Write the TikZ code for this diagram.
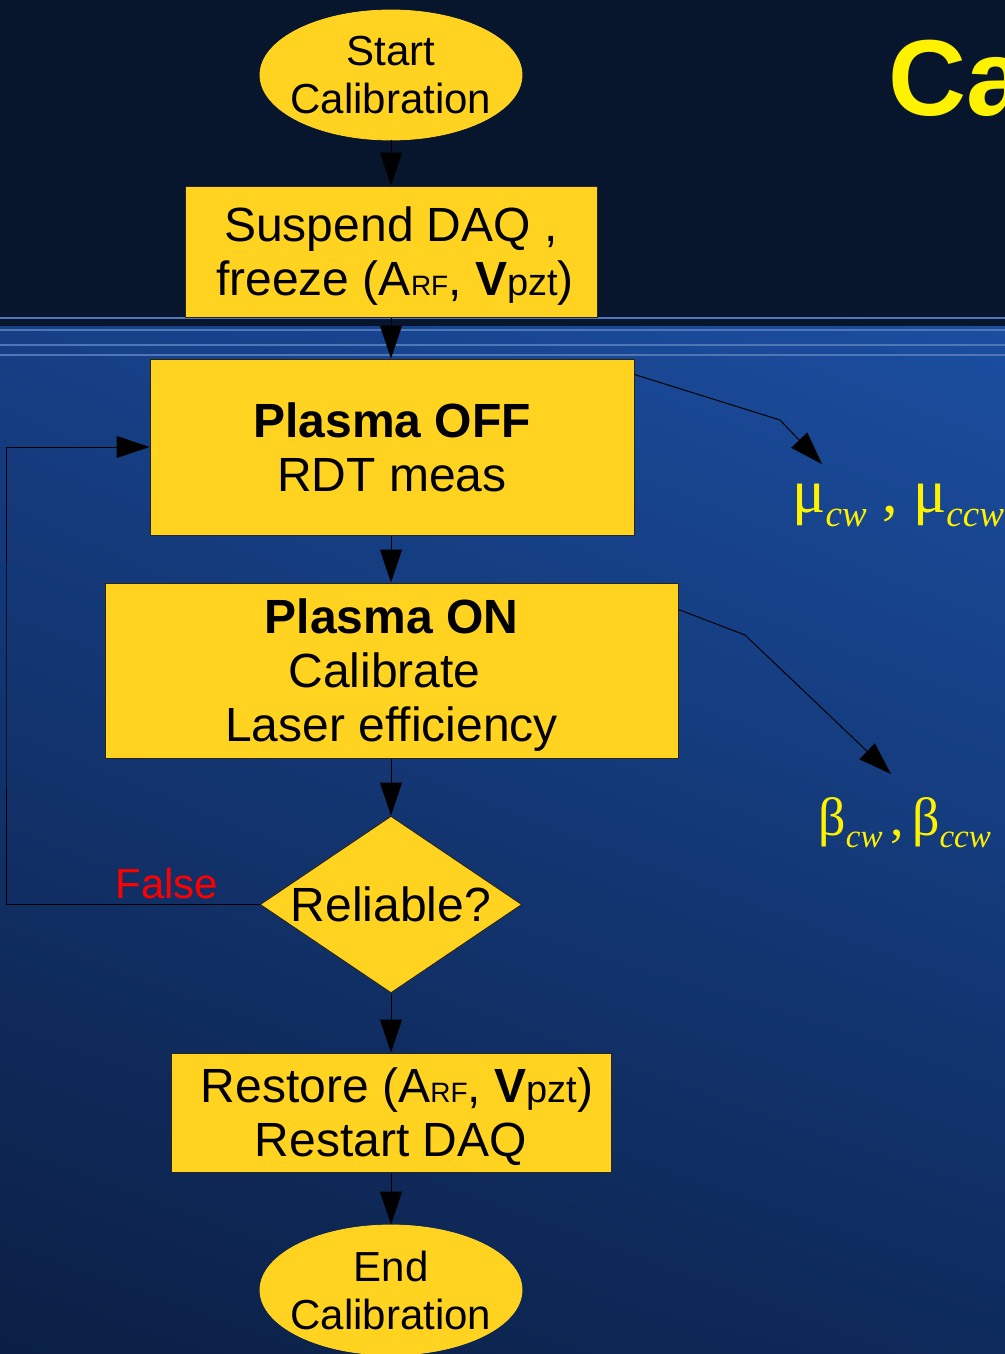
\documentclass[tikz,border=0pt]{standalone}
\usepackage{fontspec}
\setmainfont{Liberation Sans}
\newfontfamily\calserif{Liberation Serif}
\usepackage{tikz}
\usetikzlibrary{shapes.geometric, arrows.meta, calc, positioning, shadings}
\definecolor{calyellow}{HTML}{FFD320}
\definecolor{navy}{HTML}{07152D}
\definecolor{stripe}{HTML}{4F77B8}
\definecolor{bgul}{HTML}{163F86}
\definecolor{bgur}{HTML}{1B4EA0}
\definecolor{bgll}{HTML}{0B1F44}
\definecolor{bglr}{HTML}{0E2A5C}
\tikzset{calbox/.style={rectangle, draw=black!85, line width=0.5pt, fill=calyellow, align=center, inner sep=0pt, text depth=0pt, font=\fontsize{24}{27}\selectfont},
    calterm/.style={ellipse, draw=calyellow, fill=calyellow, align=center, inner xsep=-4pt, inner ysep=0pt, minimum width=131pt, minimum height=65pt, font=\fontsize{21}{24}\selectfont},
    caldec/.style={diamond, draw=black!85, line width=0.5pt, fill=calyellow, inner sep=0pt, shape aspect=1.48, minimum width=131pt, minimum height=88.5pt, font=\fontsize{24}{27}\selectfont},
    flow/.style={draw=black, line width=0.5pt, -{Triangle[length=16.5pt, width=11pt]}},
    lbl/.style={text=yellow, inner sep=0pt, anchor=base west},
}
\newcommand{\calarf}{A{\fontsize{14}{14}\selectfont RF}}
\newcommand{\calvpzt}{\textbf{V}{\fontsize{19}{19}\selectfont pzt}}
\newcommand{\calsub}[1]{\raisebox{-7pt}{\fontsize{18.5}{19}\selectfont\itshape #1}}
\newcommand{\calsubb}[1]{\raisebox{-6pt}{\fontsize{16.5}{17}\selectfont\itshape #1}}

\begin{document}
\begin{tikzpicture}[x=0.5pt, y=-0.5pt]
        \useasboundingbox (0,0) rectangle (1005,1354);
        \clip (0,0) rectangle (1005,1354);

        \fill[navy] (0,0) rectangle (1005,326);
        \shade[upper left=bgul, upper right=bgur, lower left=bgll, lower right=bglr] (0,326) rectangle (1005,1354);
        \draw[stripe, line width=1pt] (0,318) -- (1005,318);
        \draw[stripe, line width=1pt] (0,329.5) -- (1005,329.5);
        \draw[stripe, line width=1pt] (0,344.5) -- (1005,344.5);
        \draw[stripe, line width=1pt] (0,354.5) -- (1005,354.5);

        \node[lbl, font=\bfseries\fontsize{54}{54}\selectfont] (title) at (888,116) {Ca};

        \node[calterm] (start) at (391,75) {Start\\Calibration};
        \node[calbox, minimum width=206pt, minimum height=65.5pt] (suspend) at (391,251.5) {Suspend DAQ ,\\\hspace*{4pt}freeze (\calarf, \calvpzt)};
        \node[calbox, minimum width=242pt, minimum height=88pt] (off) at (392,447) {\textbf{Plasma OFF}\\RDT meas};
        \node[calbox, minimum width=286.5pt, minimum height=87.5pt] (on) at (391.5,670.5) {\textbf{Plasma ON}\\Calibrate\kern7pt\\Laser efficiency};
        \node[caldec] (rel) at (391,904.5) {Reliable?};
        \node[calbox, minimum width=220pt, minimum height=59.5pt] (restore) at (391,1112.5) {\hspace*{6pt}Restore (\calarf, \calvpzt)\\Restart DAQ};
        \node[calterm] (end) at (391,1290) {End\\Calibration};

        \draw[flow] (start) -- (suspend);
        \draw[flow] (suspend) -- (suspend |- off.north);
        \draw[flow] (off.south -| suspend) -- (suspend |- on.north);
        \draw[flow] (on.south -| suspend) -- (rel);
        \draw[flow] (rel) -- (restore);
        \draw[flow] (restore) -- (end);

        \coordinate (loop) at (6,675);
        \draw[flow] (rel.west) -| (loop) |- (off.west);
        \node[text=red, font=\fontsize{21}{24}\selectfont, anchor=base, inner sep=0pt] (false) at (167,898) {False};

        \node[lbl, font=\calserif\fontsize{31}{32}\selectfont] (mu) at (792,512) {μ\calsub{cw} , μ\calsub{ccw}};
        \node[lbl, font=\calserif\fontsize{27}{30}\selectfont] (beta) at (818,835) {β\calsubb{cw}\hspace{4pt},\hspace{4pt}β\calsubb{ccw}};
        \coordinate (mubend) at (780,420);
        \coordinate (mutip) at (822,464);
        \coordinate (betabend) at (745,635);
        \coordinate (betatip) at (891,774);
        \draw[flow] ($(off.north east)+(0,16)$) -- (mubend) -- (mutip);
        \draw[flow] ($(on.north east)+(0,27)$) -- (betabend) -- (betatip);
\end{tikzpicture}
\end{document}
